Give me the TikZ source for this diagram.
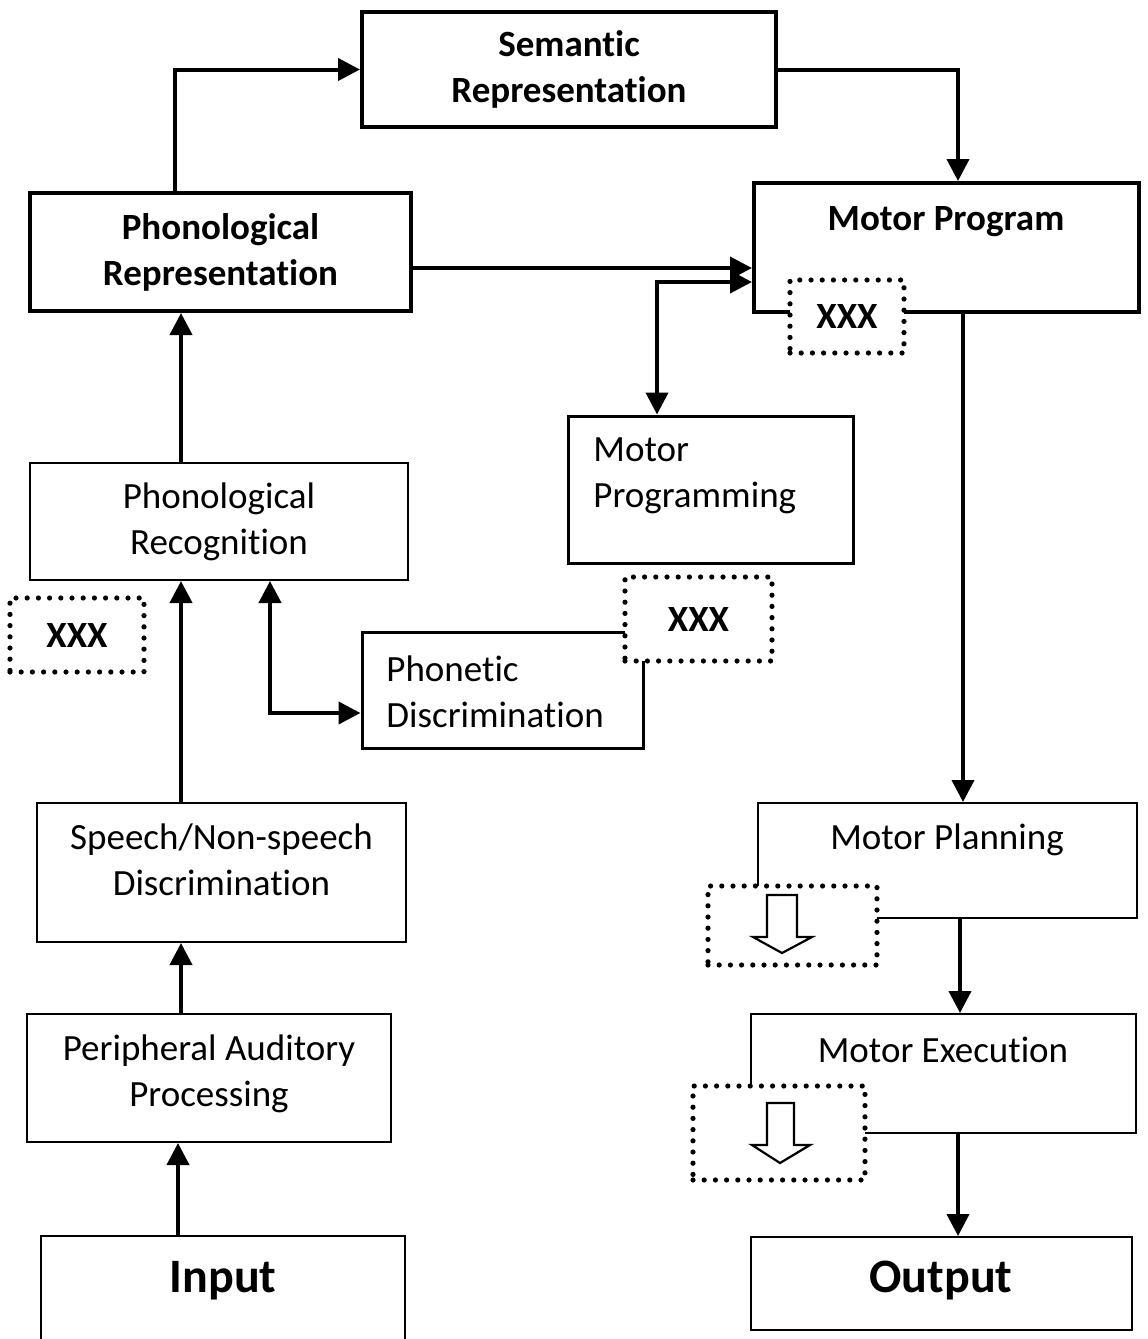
\documentclass[tikz,border=0pt]{standalone}
\usepackage{fontspec}
\setmainfont{Carlito}[Ligatures={NoCommon,NoContextual}]
\usetikzlibrary{arrows.meta}
\tikzset{
  box/.style={draw, line width=1pt, fill=white, inner sep=0pt, align=center,
    font=\fontsize{18.5}{23}\selectfont},
  thickbox/.style={box, line width=2pt, font=\fontsize{18.5}{23}\selectfont\bfseries},
  midbox/.style={box, line width=1.5pt},
  dotbox/.style={draw, fill=white, line width=2.6pt, line cap=round,
    dash pattern=on 0pt off 5.6pt, inner sep=0pt, align=center,
    font=\fontsize{18.5}{23}\selectfont\bfseries},
  txt/.style={inner sep=0pt, align=center, font=\fontsize{18.5}{23}\selectfont},
  bigtxt/.style={inner sep=0pt, font=\fontsize{24}{28}\selectfont\bfseries},
  conn/.style={line width=2pt, -{Triangle[length=11pt,width=11pt]}},
  biconn/.style={line width=2pt, {Triangle[length=11pt,width=11pt]}-{Triangle[length=11pt,width=11pt]}},
  hollow/.style={draw, line width=1.1pt, fill=white, line join=miter},
}
\begin{document}
\begin{tikzpicture}[x=0.5pt,y=-0.5pt]
\useasboundingbox (0,0) rectangle (1147,1339);

% ---- boxes of the comprehension route (left)
\node[thickbox, minimum width=207pt, minimum height=57.5pt] (sem) at (569,69.5)
  {Semantic\\Representation};
\node[thickbox, minimum width=190.5pt, minimum height=59pt] (phrep) at (220.5,252)
  {Phonological\\Representation};
\node[box, minimum width=189pt, minimum height=58.5pt] (phrec) at (219,521.5)
  {Phonological\\Recognition};
\node[midbox, minimum width=140.5pt, minimum height=58pt] (phdis) at (502.5,690) {};
\node[txt, anchor=west, align=left] (phdist) at (386,692) {Phonetic\\Discrimination};
\node[box, minimum width=184.5pt, minimum height=69.5pt] (speech) at (221.5,872.5) {};
\node[txt] (speecht) at (221.5,860) {Speech/Non-speech\\Discrimination};
\node[box, minimum width=182pt, minimum height=64pt] (periph) at (209,1078) {};
\node[txt] (periapht) at (209,1074) {Peripheral Auditory\\Processing};
\node[box, minimum width=182pt, minimum height=62pt] (input) at (223,1298) {};
\node[bigtxt] (inputt) at (223,1281) {Input};

% ---- boxes of the production route (right)
\node[thickbox, minimum width=192.5pt, minimum height=64.5pt] (mprog) at (946.5,247.5) {};
\node[txt, font=\fontsize{18.5}{23}\selectfont\bfseries] (mprogt) at (946,222) {Motor Program};
\node[midbox, minimum width=142.5pt, minimum height=73.5pt] (mpg) at (710.5,489.5) {};
\node[txt, anchor=west, align=left] (mpgt) at (593,476) {Motor\\Programming};
\node[box, minimum width=189.5pt, minimum height=57.5pt] (mplan) at (947.5,860.5) {};
\node[txt] (mplant) at (947,840) {Motor Planning};
\node[box, minimum width=192.5pt, minimum height=59.5pt] (mexec) at (943.5,1073.5) {};
\node[txt] (mexect) at (943,1050) {Motor Execution};
\node[box, minimum width=190.5pt, minimum height=46.5pt] (output) at (941.5,1283.5) {};
\node[bigtxt] (outputt) at (941,1281) {Output};

% ---- dotted markers laid over the boxes
\node[dotbox, minimum width=57pt, minimum height=36.5pt] (x1) at (847,316.5) {XXX};
\node[dotbox, minimum width=73.5pt, minimum height=42pt] (x2) at (698.5,619) {XXX};
\node[dotbox, minimum width=67pt, minimum height=37pt] (x3) at (77,635) {XXX};
\node[dotbox, minimum width=84.5pt, minimum height=39.5pt] (d1) at (792.5,925.5) {};
\node[dotbox, minimum width=86pt, minimum height=47pt] (d2) at (779,1133) {};

% hollow block arrows inside the dotted markers
\path[hollow] (767,895) -- (797,895) -- (797,937) -- (812,937) -- (782,953)
  -- (753,937) -- (767,937) -- cycle;
\path[hollow] (767,1103) -- (794,1103) -- (794,1145) -- (810,1145) -- (780,1163)
  -- (752,1145) -- (767,1145) -- cycle;

% ---- anchor points for the connectors
\coordinate (pr-up)  at ([xshift=-22.75pt]phrep.north);
\coordinate (mp-in)  at ([xshift=5.75pt]mprog.north);
\coordinate (pr-out) at ([yshift=-8pt]phrep.east);
\coordinate (mpg-up) at ([xshift=-26.75pt]mpg.north);
\coordinate (mp-low) at ([yshift=-17.25pt]mprog.west);
\coordinate (mp-out) at ([xshift=8.25pt]mprog.south);
\coordinate (pl-out) at ([xshift=6.25pt]mplan.south);
\coordinate (me-out) at ([xshift=7.25pt]mexec.south);
\coordinate (rc-up)  at ([xshift=-19pt]phrec.north);
\coordinate (rc-dn)  at ([xshift=-19pt]phrec.south);
\coordinate (rc-br)  at ([xshift=25.5pt]phrec.south);
\coordinate (pd-in)  at ([yshift=-11.5pt]phdis.west);
\coordinate (in-up)  at ([xshift=-22.5pt]input.north);

% ---- connectors
\draw[conn] (pr-up) |- (sem.west);
\draw[conn] (sem.east) -| (mp-in);
\draw[conn] (pr-out) -- (pr-out -| mprog.west);
\draw[biconn] (mpg-up) |- (mp-low);
\draw[conn] (mp-out) -- (mp-out |- mplan.north);
\draw[conn] (pl-out) -- (pl-out |- mexec.north);
\draw[conn] (me-out) -- (me-out |- output.north);
\draw[conn] (rc-up) -- (rc-up |- phrep.south);
\draw[conn] (rc-dn |- speech.north) -- (rc-dn);
\draw[conn] (rc-dn |- periph.north) -- (rc-dn |- speech.south);
\draw[conn] (in-up) -- (in-up |- periph.south);
\draw[biconn] (rc-br) |- (pd-in);
\end{tikzpicture}
\end{document}
